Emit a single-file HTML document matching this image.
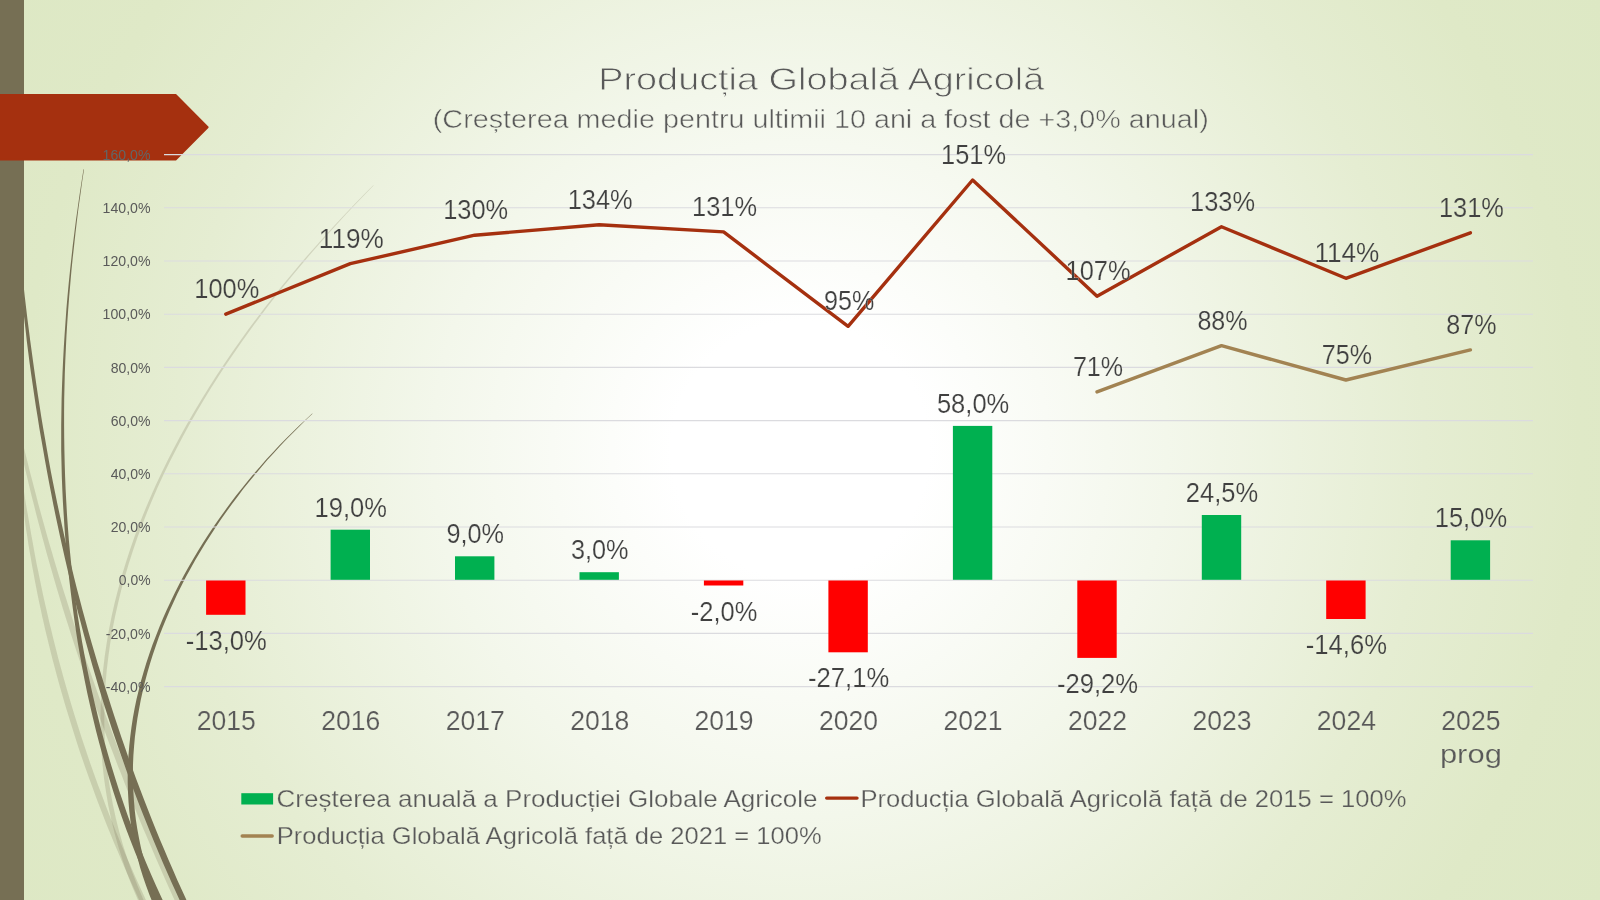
<!DOCTYPE html>
<html><head><meta charset="utf-8"><title>Producția Globală Agricolă</title>
<style>
html,body{margin:0;padding:0;}
body{width:1600px;height:900px;overflow:hidden;background:#e0e8c6;font-family:"Liberation Sans",sans-serif;}
#slide{position:absolute;left:0;top:0;width:1600px;height:900px;overflow:hidden;
background:radial-gradient(circle farthest-corner at 50% 50%, #ffffff 0%, #ffffff 14%, #f3f7eb 40%, #e5edd2 68%, #dfe9c7 85%, #dde8c4 100%);}
svg{position:absolute;left:0;top:0;will-change:transform;}
text{font-family:"Liberation Sans",sans-serif;stroke:url(#bg);stroke-width:0.2px;}
.ax text{stroke:none;}
.lg{stroke-width:0.25px;}
.cat{stroke-width:0.3px;}
.t1{stroke-width:0.8px;}
.t2{stroke-width:0.5px;}
.ax{font-size:15.3px;fill:#595959;}
.dl{font-size:27.8px;fill:#404040;}
.cat{font-size:27.8px;fill:#595959;}
.lg{font-size:23.6px;fill:#595959;}
.t1{font-size:31.5px;fill:#595959;}
.t2{font-size:26.7px;fill:#595959;}
</style></head><body>
<div id="slide">
<svg width="1600" height="900" viewBox="0 0 1600 900">
<defs>
<radialGradient id="bg" gradientUnits="userSpaceOnUse" cx="800" cy="450" r="917.9">
<stop offset="0" stop-color="#ffffff"/><stop offset="0.14" stop-color="#ffffff"/><stop offset="0.40" stop-color="#f3f7eb"/><stop offset="0.68" stop-color="#e5edd2"/><stop offset="0.85" stop-color="#dfe9c7"/><stop offset="1" stop-color="#dde8c4"/>
</radialGradient>
</defs>
<rect x="0" y="0" width="1600" height="900" fill="url(#bg)"/>
<g id="wisps">
<path d="M20.3,447.3 L22.1,455.5 L23.9,463.6 L25.8,471.8 L27.8,480.0 L29.7,488.1 L31.7,496.2 L33.8,504.3 L35.8,512.5 L37.9,520.6 L40.1,528.7 L42.2,536.7 L44.4,544.8 L46.6,552.9 L48.9,560.9 L51.2,569.0 L53.5,577.0 L55.8,585.1 L58.2,593.1 L60.6,601.1 L63.0,609.1 L65.5,617.1 L68.1,625.0 L70.6,633.0 L73.2,640.9 L75.8,648.9 L78.4,656.8 L81.1,664.7 L83.8,672.7 L86.5,680.6 L89.2,688.5 L92.0,696.4 L94.8,704.2 L97.7,712.1 L100.5,719.9 L103.4,727.8 L106.3,735.6 L109.3,743.4 L112.3,751.3 L115.3,759.1 L118.3,766.9 L121.4,774.6 L124.4,782.4 L127.5,790.2 L130.7,797.9 L133.8,805.7 L137.0,813.4 L140.2,821.2 L143.4,828.9 L146.7,836.6 L150.0,844.3 L153.3,852.0 L156.6,859.7 L159.9,867.3 L163.3,875.0 L166.7,882.7 L170.1,890.3 L173.6,897.9 L177.0,905.6 L180.5,913.2 L186.4,910.5 L182.9,902.9 L179.5,895.3 L176.0,887.6 L172.6,880.0 L169.2,872.4 L165.9,864.7 L162.5,857.1 L159.2,849.4 L155.9,841.7 L152.7,834.1 L149.4,826.4 L146.2,818.7 L143.0,811.0 L139.8,803.2 L136.7,795.5 L133.6,787.8 L130.5,780.0 L127.4,772.3 L124.3,764.5 L121.3,756.7 L118.3,748.9 L115.4,741.2 L112.4,733.3 L109.5,725.5 L106.6,717.7 L103.7,709.9 L100.9,702.0 L98.1,694.2 L95.3,686.3 L92.5,678.5 L89.8,670.6 L87.0,662.7 L84.3,654.8 L81.7,646.9 L79.0,639.0 L76.4,631.1 L73.8,623.2 L71.3,615.2 L68.8,607.3 L66.3,599.3 L63.8,591.4 L61.3,583.4 L58.8,575.4 L56.4,567.4 L54.0,559.4 L51.7,551.4 L49.3,543.4 L47.0,535.4 L44.8,527.4 L42.5,519.3 L40.3,511.3 L38.1,503.2 L36.0,495.1 L33.9,487.1 L31.8,479.0 L29.7,470.9 L27.7,462.8 L25.6,454.6 L23.6,446.5Z" fill="rgba(118,111,84,0.22)"/>
<path d="M21.5,492.1 L22.4,499.4 L23.3,506.8 L24.1,514.1 L25.0,521.4 L26.0,528.8 L27.2,536.1 L28.3,543.4 L29.5,550.7 L30.8,558.0 L32.0,565.3 L33.4,572.5 L34.7,579.8 L36.1,587.1 L37.5,594.3 L39.0,601.6 L40.6,608.8 L42.1,616.0 L43.8,623.3 L45.4,630.5 L47.2,637.7 L48.9,644.8 L50.7,652.0 L52.5,659.2 L54.4,666.3 L56.3,673.5 L58.2,680.6 L60.2,687.7 L62.3,694.9 L64.3,702.0 L66.4,709.1 L68.6,716.1 L70.8,723.2 L73.0,730.3 L75.2,737.3 L77.5,744.4 L79.8,751.4 L82.2,758.4 L84.6,765.4 L87.1,772.4 L89.5,779.3 L92.1,786.3 L94.6,793.2 L97.2,800.2 L99.8,807.1 L102.5,814.0 L105.2,820.9 L107.9,827.8 L110.7,834.6 L113.5,841.5 L116.4,848.3 L119.3,855.1 L122.2,862.0 L125.1,868.7 L128.1,875.5 L131.1,882.3 L134.2,889.0 L137.3,895.8 L140.4,902.5 L143.6,909.2 L149.0,906.6 L145.9,899.9 L142.8,893.2 L139.7,886.5 L136.6,879.8 L133.6,873.1 L130.7,866.3 L127.7,859.6 L124.8,852.8 L121.9,846.0 L119.1,839.2 L116.3,832.4 L113.6,825.5 L110.8,818.7 L108.1,811.8 L105.5,804.9 L102.9,798.0 L100.3,791.1 L97.7,784.2 L95.2,777.3 L92.8,770.4 L90.3,763.4 L87.9,756.4 L85.6,749.5 L83.2,742.5 L80.9,735.5 L78.7,728.5 L76.5,721.4 L74.3,714.4 L72.1,707.3 L70.0,700.3 L68.0,693.2 L65.9,686.1 L63.9,679.0 L62.0,671.9 L60.0,664.8 L58.1,657.7 L56.3,650.6 L54.5,643.5 L52.7,636.3 L51.0,629.1 L49.2,622.0 L47.6,614.8 L45.9,607.6 L44.3,600.4 L42.7,593.2 L41.2,586.0 L39.7,578.8 L38.2,571.6 L36.7,564.4 L35.3,557.1 L34.0,549.9 L32.7,542.6 L31.4,535.4 L30.1,528.1 L28.9,520.9 L27.6,513.6 L26.3,506.3 L25.1,499.0 L24.0,491.7Z" fill="rgba(118,111,84,0.22)"/>
<path d="M373.3,185.2 L364.0,194.6 L354.7,204.1 L345.5,213.8 L336.3,223.6 L327.1,233.5 L318.0,243.7 L308.9,253.9 L300.0,264.3 L291.1,274.9 L282.3,285.6 L273.6,296.4 L265.1,307.3 L256.6,318.4 L248.3,329.6 L240.1,341.0 L232.0,352.4 L224.2,364.0 L216.4,375.7 L208.9,387.5 L201.5,399.4 L194.3,411.4 L187.3,423.5 L180.5,435.7 L174.0,448.0 L167.6,460.4 L161.5,472.9 L155.6,485.5 L150.0,498.2 L144.6,510.9 L139.5,523.7 L134.6,536.6 L130.1,549.6 L125.8,562.7 L121.8,575.8 L118.2,588.9 L114.8,602.2 L111.8,615.5 L109.1,628.9 L106.8,642.3 L104.8,655.7 L103.2,669.2 L101.9,682.7 L101.1,696.3 L100.6,709.9 L100.5,723.5 L100.7,737.1 L101.4,750.8 L102.5,764.5 L104.0,778.2 L106.0,791.8 L108.3,805.5 L111.2,819.2 L114.5,832.9 L118.3,846.6 L122.6,860.2 L127.3,873.9 L132.6,887.5 L138.4,901.0 L144.6,914.5 L149.3,912.3 L143.1,898.9 L137.4,885.5 L132.1,872.1 L127.3,858.6 L123.0,845.2 L119.2,831.7 L115.8,818.2 L112.9,804.7 L110.4,791.1 L108.3,777.6 L106.7,764.1 L105.5,750.5 L104.7,737.0 L104.3,723.5 L104.4,710.0 L104.8,696.5 L105.6,683.0 L106.8,669.6 L108.4,656.2 L110.3,642.8 L112.5,629.5 L115.1,616.2 L118.1,603.0 L121.3,589.8 L124.9,576.7 L128.8,563.6 L133.0,550.6 L137.4,537.6 L142.2,524.8 L147.2,512.0 L152.5,499.2 L158.0,486.6 L163.8,474.0 L169.9,461.5 L176.2,449.2 L182.6,436.9 L189.4,424.6 L196.3,412.5 L203.4,400.5 L210.7,388.6 L218.2,376.8 L225.8,365.1 L233.7,353.5 L241.6,342.1 L249.7,330.7 L258.0,319.4 L266.3,308.3 L274.8,297.3 L283.4,286.5 L292.2,275.8 L301.0,265.2 L309.8,254.7 L318.8,244.4 L327.8,234.2 L336.9,224.2 L346.0,214.3 L355.2,204.5 L364.4,195.0 L373.6,185.6Z" fill="rgba(118,111,84,0.22)"/>
<path d="M312.2,413.5 L305.5,419.7 L298.8,425.9 L292.2,432.4 L285.6,438.9 L279.2,445.6 L272.8,452.4 L266.4,459.3 L260.2,466.4 L254.0,473.5 L248.0,480.8 L242.0,488.2 L236.1,495.6 L230.3,503.2 L224.7,510.9 L219.1,518.7 L213.7,526.5 L208.4,534.5 L203.2,542.6 L198.1,550.7 L193.2,558.9 L188.4,567.2 L183.8,575.6 L179.3,584.1 L175.0,592.6 L170.8,601.2 L166.8,609.8 L162.9,618.5 L159.3,627.3 L155.8,636.2 L152.4,645.0 L149.3,654.0 L146.3,663.0 L143.6,672.0 L141.0,681.1 L138.7,690.2 L136.5,699.3 L134.6,708.5 L132.9,717.8 L131.5,727.0 L130.3,736.3 L129.3,745.6 L128.5,755.0 L128.0,764.3 L127.7,773.7 L127.7,783.1 L128.0,792.4 L128.5,801.8 L129.3,811.2 L130.4,820.6 L131.7,830.0 L133.4,839.4 L135.3,848.8 L137.6,858.1 L140.1,867.4 L143.0,876.8 L146.2,886.0 L149.6,895.3 L153.4,904.5 L157.5,913.7 L162.7,911.3 L158.7,902.3 L154.9,893.2 L151.5,884.1 L148.4,875.0 L145.6,865.9 L143.1,856.7 L140.9,847.5 L139.0,838.3 L137.3,829.1 L135.9,819.9 L134.8,810.7 L134.0,801.4 L133.4,792.2 L133.0,783.0 L132.9,773.7 L133.0,764.5 L133.4,755.3 L134.1,746.1 L134.9,736.9 L136.1,727.7 L137.4,718.5 L139.0,709.4 L140.7,700.2 L142.7,691.2 L144.9,682.1 L147.3,673.1 L149.9,664.1 L152.7,655.1 L155.7,646.2 L158.8,637.3 L162.2,628.5 L165.8,619.7 L169.5,611.0 L173.4,602.4 L177.4,593.8 L181.7,585.3 L186.0,576.8 L190.6,568.4 L195.3,560.1 L200.1,551.9 L205.1,543.8 L210.2,535.7 L215.4,527.7 L220.7,519.8 L226.2,512.0 L231.8,504.3 L237.5,496.7 L243.2,489.1 L249.1,481.7 L255.1,474.4 L261.2,467.2 L267.3,460.1 L273.6,453.2 L279.9,446.3 L286.3,439.6 L292.8,432.9 L299.3,426.4 L305.8,420.1 L312.5,413.8Z" fill="#766f54"/>
<path d="M83.5,169.3 L81.5,181.9 L79.6,194.5 L77.8,207.2 L76.0,219.8 L74.4,232.5 L72.8,245.2 L71.4,258.0 L70.0,270.7 L68.7,283.5 L67.5,296.3 L66.4,309.1 L65.5,321.9 L64.6,334.8 L63.8,347.6 L63.1,360.5 L62.5,373.4 L62.0,386.2 L61.6,399.1 L61.4,412.0 L61.2,424.9 L61.2,437.8 L61.2,450.6 L61.5,463.5 L61.8,476.4 L62.3,489.3 L62.9,502.1 L63.7,515.0 L64.5,527.8 L65.5,540.7 L66.6,553.5 L67.9,566.3 L69.2,579.1 L70.7,591.8 L72.3,604.6 L74.0,617.3 L75.8,630.0 L77.8,642.7 L80.0,655.4 L82.3,668.0 L84.7,680.6 L87.3,693.2 L90.1,705.7 L93.0,718.2 L96.0,730.7 L99.2,743.1 L102.6,755.5 L106.1,767.9 L109.8,780.2 L113.6,792.5 L117.6,804.7 L121.8,816.9 L126.1,829.0 L130.7,841.1 L135.4,853.1 L140.3,865.1 L145.3,877.0 L150.6,888.9 L156.0,900.7 L161.6,912.4 L167.2,909.7 L161.7,898.0 L156.3,886.3 L151.1,874.5 L146.1,862.7 L141.2,850.8 L136.5,838.9 L131.9,826.9 L127.5,814.9 L123.3,802.8 L119.2,790.7 L115.3,778.5 L111.5,766.3 L107.9,754.0 L104.4,741.7 L101.1,729.4 L98.0,717.0 L95.0,704.6 L92.1,692.1 L89.4,679.6 L86.8,667.1 L84.4,654.6 L82.1,642.0 L80.0,629.4 L77.9,616.7 L76.1,604.1 L74.4,591.4 L72.8,578.6 L71.4,565.9 L70.1,553.1 L68.9,540.4 L67.9,527.6 L67.0,514.8 L66.3,502.0 L65.6,489.1 L65.1,476.3 L64.7,463.4 L64.4,450.6 L64.2,437.7 L64.1,424.9 L64.1,412.0 L64.2,399.2 L64.5,386.3 L64.8,373.4 L65.3,360.6 L65.9,347.7 L66.5,334.9 L67.3,322.1 L68.2,309.3 L69.2,296.5 L70.3,283.7 L71.4,270.9 L72.7,258.1 L74.1,245.4 L75.5,232.7 L77.0,220.0 L78.6,207.3 L80.4,194.6 L82.1,182.0 L84.0,169.4Z" fill="#766f54"/>
<path d="M20.9,286.1 L22.0,297.1 L23.1,308.0 L24.3,319.0 L25.6,330.0 L26.8,340.9 L28.2,351.9 L29.6,362.9 L31.1,373.8 L32.7,384.7 L34.3,395.7 L35.9,406.6 L37.7,417.5 L39.4,428.4 L41.3,439.3 L43.2,450.1 L45.1,461.0 L47.1,471.9 L49.1,482.7 L51.2,493.6 L53.3,504.4 L55.5,515.2 L57.8,526.0 L60.1,536.8 L62.5,547.6 L64.9,558.3 L67.4,569.1 L69.9,579.8 L72.5,590.6 L75.2,601.3 L77.9,612.0 L80.7,622.6 L83.5,633.3 L86.4,644.0 L89.3,654.6 L92.3,665.2 L95.4,675.8 L98.5,686.4 L101.7,697.0 L105.0,707.5 L108.4,718.0 L111.8,728.5 L115.4,738.9 L119.0,749.4 L122.6,759.8 L126.3,770.2 L130.1,780.6 L134.0,790.9 L137.9,801.2 L141.9,811.6 L146.0,821.8 L150.1,832.1 L154.3,842.3 L158.6,852.5 L162.9,862.7 L167.3,872.8 L171.8,883.0 L176.4,893.1 L181.0,903.1 L185.7,913.2 L191.4,910.5 L186.7,900.5 L182.1,890.5 L177.5,880.4 L173.1,870.3 L168.7,860.2 L164.4,850.1 L160.1,839.9 L155.9,829.7 L151.8,819.5 L147.8,809.3 L143.8,799.0 L139.9,788.7 L136.0,778.4 L132.2,768.1 L128.5,757.7 L124.9,747.3 L121.3,736.9 L117.8,726.5 L114.3,716.1 L110.9,705.6 L107.6,695.1 L104.2,684.6 L101.0,674.1 L97.7,663.6 L94.6,653.1 L91.5,642.5 L88.5,631.9 L85.6,621.3 L82.7,610.7 L79.9,600.1 L77.1,589.4 L74.4,578.7 L71.8,568.0 L69.2,557.3 L66.7,546.6 L64.3,535.9 L61.9,525.1 L59.6,514.3 L57.3,503.6 L55.1,492.8 L52.9,482.0 L50.8,471.2 L48.8,460.3 L46.9,449.5 L45.0,438.6 L43.1,427.8 L41.3,416.9 L39.6,406.0 L37.9,395.1 L36.3,384.2 L34.7,373.3 L33.2,362.4 L31.7,351.5 L30.2,340.5 L28.8,329.6 L27.4,318.7 L26.1,307.7 L24.8,296.8 L23.6,285.8Z" fill="#766f54"/>
</g>
<rect x="0" y="0" width="24" height="900" fill="#766f54"/>
<path d="M-5,95 L175.6,95 L207.6,127.25 L175.6,159.5 L-5,159.5 Z" fill="#a5300f" stroke="#a5300f" stroke-width="2" stroke-linejoin="round"/>
<g stroke="#dbdbdf" stroke-width="1.1">
<line x1="164" y1="154.6" x2="1533" y2="154.6"/>
<line x1="164" y1="207.8" x2="1533" y2="207.8"/>
<line x1="164" y1="261.0" x2="1533" y2="261.0"/>
<line x1="164" y1="314.2" x2="1533" y2="314.2"/>
<line x1="164" y1="367.4" x2="1533" y2="367.4"/>
<line x1="164" y1="420.6" x2="1533" y2="420.6"/>
<line x1="164" y1="473.8" x2="1533" y2="473.8"/>
<line x1="164" y1="527.0" x2="1533" y2="527.0"/>
<line x1="164" y1="580.2" x2="1533" y2="580.2"/>
<line x1="164" y1="633.4" x2="1533" y2="633.4"/>
<line x1="164" y1="686.6" x2="1533" y2="686.6"/>
</g>
<g class="ax" text-anchor="end" lengthAdjust="spacingAndGlyphs">
<text x="150.5" y="159.8" textLength="47.9" lengthAdjust="spacingAndGlyphs" style="stroke:none;fill:#626666">160,0%</text>
<text x="150.5" y="213.0" textLength="47.9" lengthAdjust="spacingAndGlyphs">140,0%</text>
<text x="150.5" y="266.2" textLength="47.9" lengthAdjust="spacingAndGlyphs">120,0%</text>
<text x="150.5" y="319.4" textLength="47.9" lengthAdjust="spacingAndGlyphs">100,0%</text>
<text x="150.5" y="372.6" textLength="39.8" lengthAdjust="spacingAndGlyphs">80,0%</text>
<text x="150.5" y="425.8" textLength="39.8" lengthAdjust="spacingAndGlyphs">60,0%</text>
<text x="150.5" y="479.0" textLength="39.8" lengthAdjust="spacingAndGlyphs">40,0%</text>
<text x="150.5" y="532.2" textLength="39.8" lengthAdjust="spacingAndGlyphs">20,0%</text>
<text x="150.5" y="585.4" textLength="31.7" lengthAdjust="spacingAndGlyphs">0,0%</text>
<text x="150.5" y="638.6" textLength="44.7" lengthAdjust="spacingAndGlyphs">-20,0%</text>
<text x="150.5" y="691.8" textLength="44.7" lengthAdjust="spacingAndGlyphs">-40,0%</text>
</g>
<rect x="206.1" y="580.5" width="39.4" height="34.3" fill="#ff0000"/>
<rect x="330.6" y="529.7" width="39.4" height="50.1" fill="#00b050"/>
<rect x="455.0" y="556.3" width="39.4" height="23.5" fill="#00b050"/>
<rect x="579.5" y="572.2" width="39.4" height="7.6" fill="#00b050"/>
<rect x="703.9" y="580.5" width="39.4" height="5.0" fill="#ff0000"/>
<rect x="828.4" y="580.5" width="39.4" height="71.8" fill="#ff0000"/>
<rect x="952.9" y="425.9" width="39.4" height="153.9" fill="#00b050"/>
<rect x="1077.3" y="580.5" width="39.4" height="77.4" fill="#ff0000"/>
<rect x="1201.8" y="515.0" width="39.4" height="64.8" fill="#00b050"/>
<rect x="1326.2" y="580.5" width="39.4" height="38.5" fill="#ff0000"/>
<rect x="1450.7" y="540.3" width="39.4" height="39.5" fill="#00b050"/>
<polyline points="225.8,314.2 350.3,263.7 474.7,235.2 599.2,224.8 723.6,231.9 848.1,326.3 972.6,180.0 1097.0,296.2 1221.5,226.7 1345.9,278.3 1470.4,232.8" fill="none" stroke="#a5300f" stroke-width="3.4" stroke-linecap="round" stroke-linejoin="round"/>
<polyline points="1097.0,391.9 1221.5,345.7 1345.9,380.0 1470.4,349.9" fill="none" stroke="#a28352" stroke-width="3.4" stroke-linecap="round" stroke-linejoin="round"/>
<g class="dl" text-anchor="middle">
<text x="226.8" y="298.2" textLength="65.0" lengthAdjust="spacingAndGlyphs">100%</text>
<text x="351.3" y="247.7" textLength="65.0" lengthAdjust="spacingAndGlyphs">119%</text>
<text x="475.7" y="219.2" textLength="65.0" lengthAdjust="spacingAndGlyphs">130%</text>
<text x="600.2" y="208.8" textLength="65.0" lengthAdjust="spacingAndGlyphs">134%</text>
<text x="724.6" y="215.9" textLength="65.0" lengthAdjust="spacingAndGlyphs">131%</text>
<text x="849.1" y="310.3" textLength="50.2" lengthAdjust="spacingAndGlyphs">95%</text>
<text x="973.6" y="164.0" textLength="65.0" lengthAdjust="spacingAndGlyphs">151%</text>
<text x="1098.0" y="280.2" textLength="65.0" lengthAdjust="spacingAndGlyphs">107%</text>
<text x="1222.5" y="210.7" textLength="65.0" lengthAdjust="spacingAndGlyphs">133%</text>
<text x="1346.9" y="262.3" textLength="65.0" lengthAdjust="spacingAndGlyphs">114%</text>
<text x="1471.4" y="216.8" textLength="65.0" lengthAdjust="spacingAndGlyphs">131%</text>
<text x="1098.0" y="375.9" textLength="50.2" lengthAdjust="spacingAndGlyphs">71%</text>
<text x="1222.5" y="329.7" textLength="50.2" lengthAdjust="spacingAndGlyphs">88%</text>
<text x="1346.9" y="364.0" textLength="50.2" lengthAdjust="spacingAndGlyphs">75%</text>
<text x="1471.4" y="333.9" textLength="50.2" lengthAdjust="spacingAndGlyphs">87%</text>
<text x="226.3" y="649.8" textLength="81.2" lengthAdjust="spacingAndGlyphs">-13,0%</text>
<text x="350.8" y="516.7" textLength="72.4" lengthAdjust="spacingAndGlyphs">19,0%</text>
<text x="475.2" y="543.3" textLength="57.6" lengthAdjust="spacingAndGlyphs">9,0%</text>
<text x="599.7" y="559.2" textLength="57.6" lengthAdjust="spacingAndGlyphs">3,0%</text>
<text x="724.1" y="620.5" textLength="66.5" lengthAdjust="spacingAndGlyphs">-2,0%</text>
<text x="848.6" y="687.3" textLength="81.2" lengthAdjust="spacingAndGlyphs">-27,1%</text>
<text x="973.1" y="412.9" textLength="72.4" lengthAdjust="spacingAndGlyphs">58,0%</text>
<text x="1097.5" y="692.9" textLength="81.2" lengthAdjust="spacingAndGlyphs">-29,2%</text>
<text x="1222.0" y="502.0" textLength="72.4" lengthAdjust="spacingAndGlyphs">24,5%</text>
<text x="1346.4" y="654.0" textLength="81.2" lengthAdjust="spacingAndGlyphs">-14,6%</text>
<text x="1470.9" y="527.3" textLength="72.4" lengthAdjust="spacingAndGlyphs">15,0%</text>
</g>
<g class="cat" text-anchor="middle">
<text x="226.3" y="729.7" textLength="59.1" lengthAdjust="spacingAndGlyphs">2015</text>
<text x="350.8" y="729.7" textLength="59.1" lengthAdjust="spacingAndGlyphs">2016</text>
<text x="475.2" y="729.7" textLength="59.1" lengthAdjust="spacingAndGlyphs">2017</text>
<text x="599.7" y="729.7" textLength="59.1" lengthAdjust="spacingAndGlyphs">2018</text>
<text x="724.1" y="729.7" textLength="59.1" lengthAdjust="spacingAndGlyphs">2019</text>
<text x="848.6" y="729.7" textLength="59.1" lengthAdjust="spacingAndGlyphs">2020</text>
<text x="973.1" y="729.7" textLength="59.1" lengthAdjust="spacingAndGlyphs">2021</text>
<text x="1097.5" y="729.7" textLength="59.1" lengthAdjust="spacingAndGlyphs">2022</text>
<text x="1222.0" y="729.7" textLength="59.1" lengthAdjust="spacingAndGlyphs">2023</text>
<text x="1346.4" y="729.7" textLength="59.1" lengthAdjust="spacingAndGlyphs">2024</text>
<text x="1470.9" y="729.7" textLength="59.1" lengthAdjust="spacingAndGlyphs">2025</text>
<text x="1470.9" y="762.5" textLength="62" lengthAdjust="spacingAndGlyphs" style="font-size:26.7px">prog</text>
</g>
<text class="t1" text-anchor="middle" x="821.2" y="90" textLength="446" lengthAdjust="spacingAndGlyphs">Producția Globală Agricolă</text>
<text class="t2" text-anchor="middle" x="820.8" y="128.3" textLength="776" lengthAdjust="spacingAndGlyphs">(Creșterea medie pentru ultimii 10 ani a fost de +3,0% anual)</text>
<rect x="241.3" y="793.2" width="31.8" height="11.3" fill="#00b050"/>
<text class="lg" x="276.5" y="806.7" textLength="541" lengthAdjust="spacingAndGlyphs">Creșterea anuală a Producției Globale Agricole</text>
<line x1="826.7" y1="798.1" x2="857" y2="798.1" stroke="#a5300f" stroke-width="3.4" stroke-linecap="round"/>
<text class="lg" x="860.5" y="806.7" textLength="546" lengthAdjust="spacingAndGlyphs">Producția Globală Agricolă față de 2015 = 100%</text>
<line x1="242.2" y1="836" x2="272.2" y2="836" stroke="#a28352" stroke-width="3.4" stroke-linecap="round"/>
<text class="lg" x="276.7" y="843.5" textLength="545" lengthAdjust="spacingAndGlyphs">Producția Globală Agricolă față de 2021 = 100%</text>
</svg>
</div>
</body></html>
